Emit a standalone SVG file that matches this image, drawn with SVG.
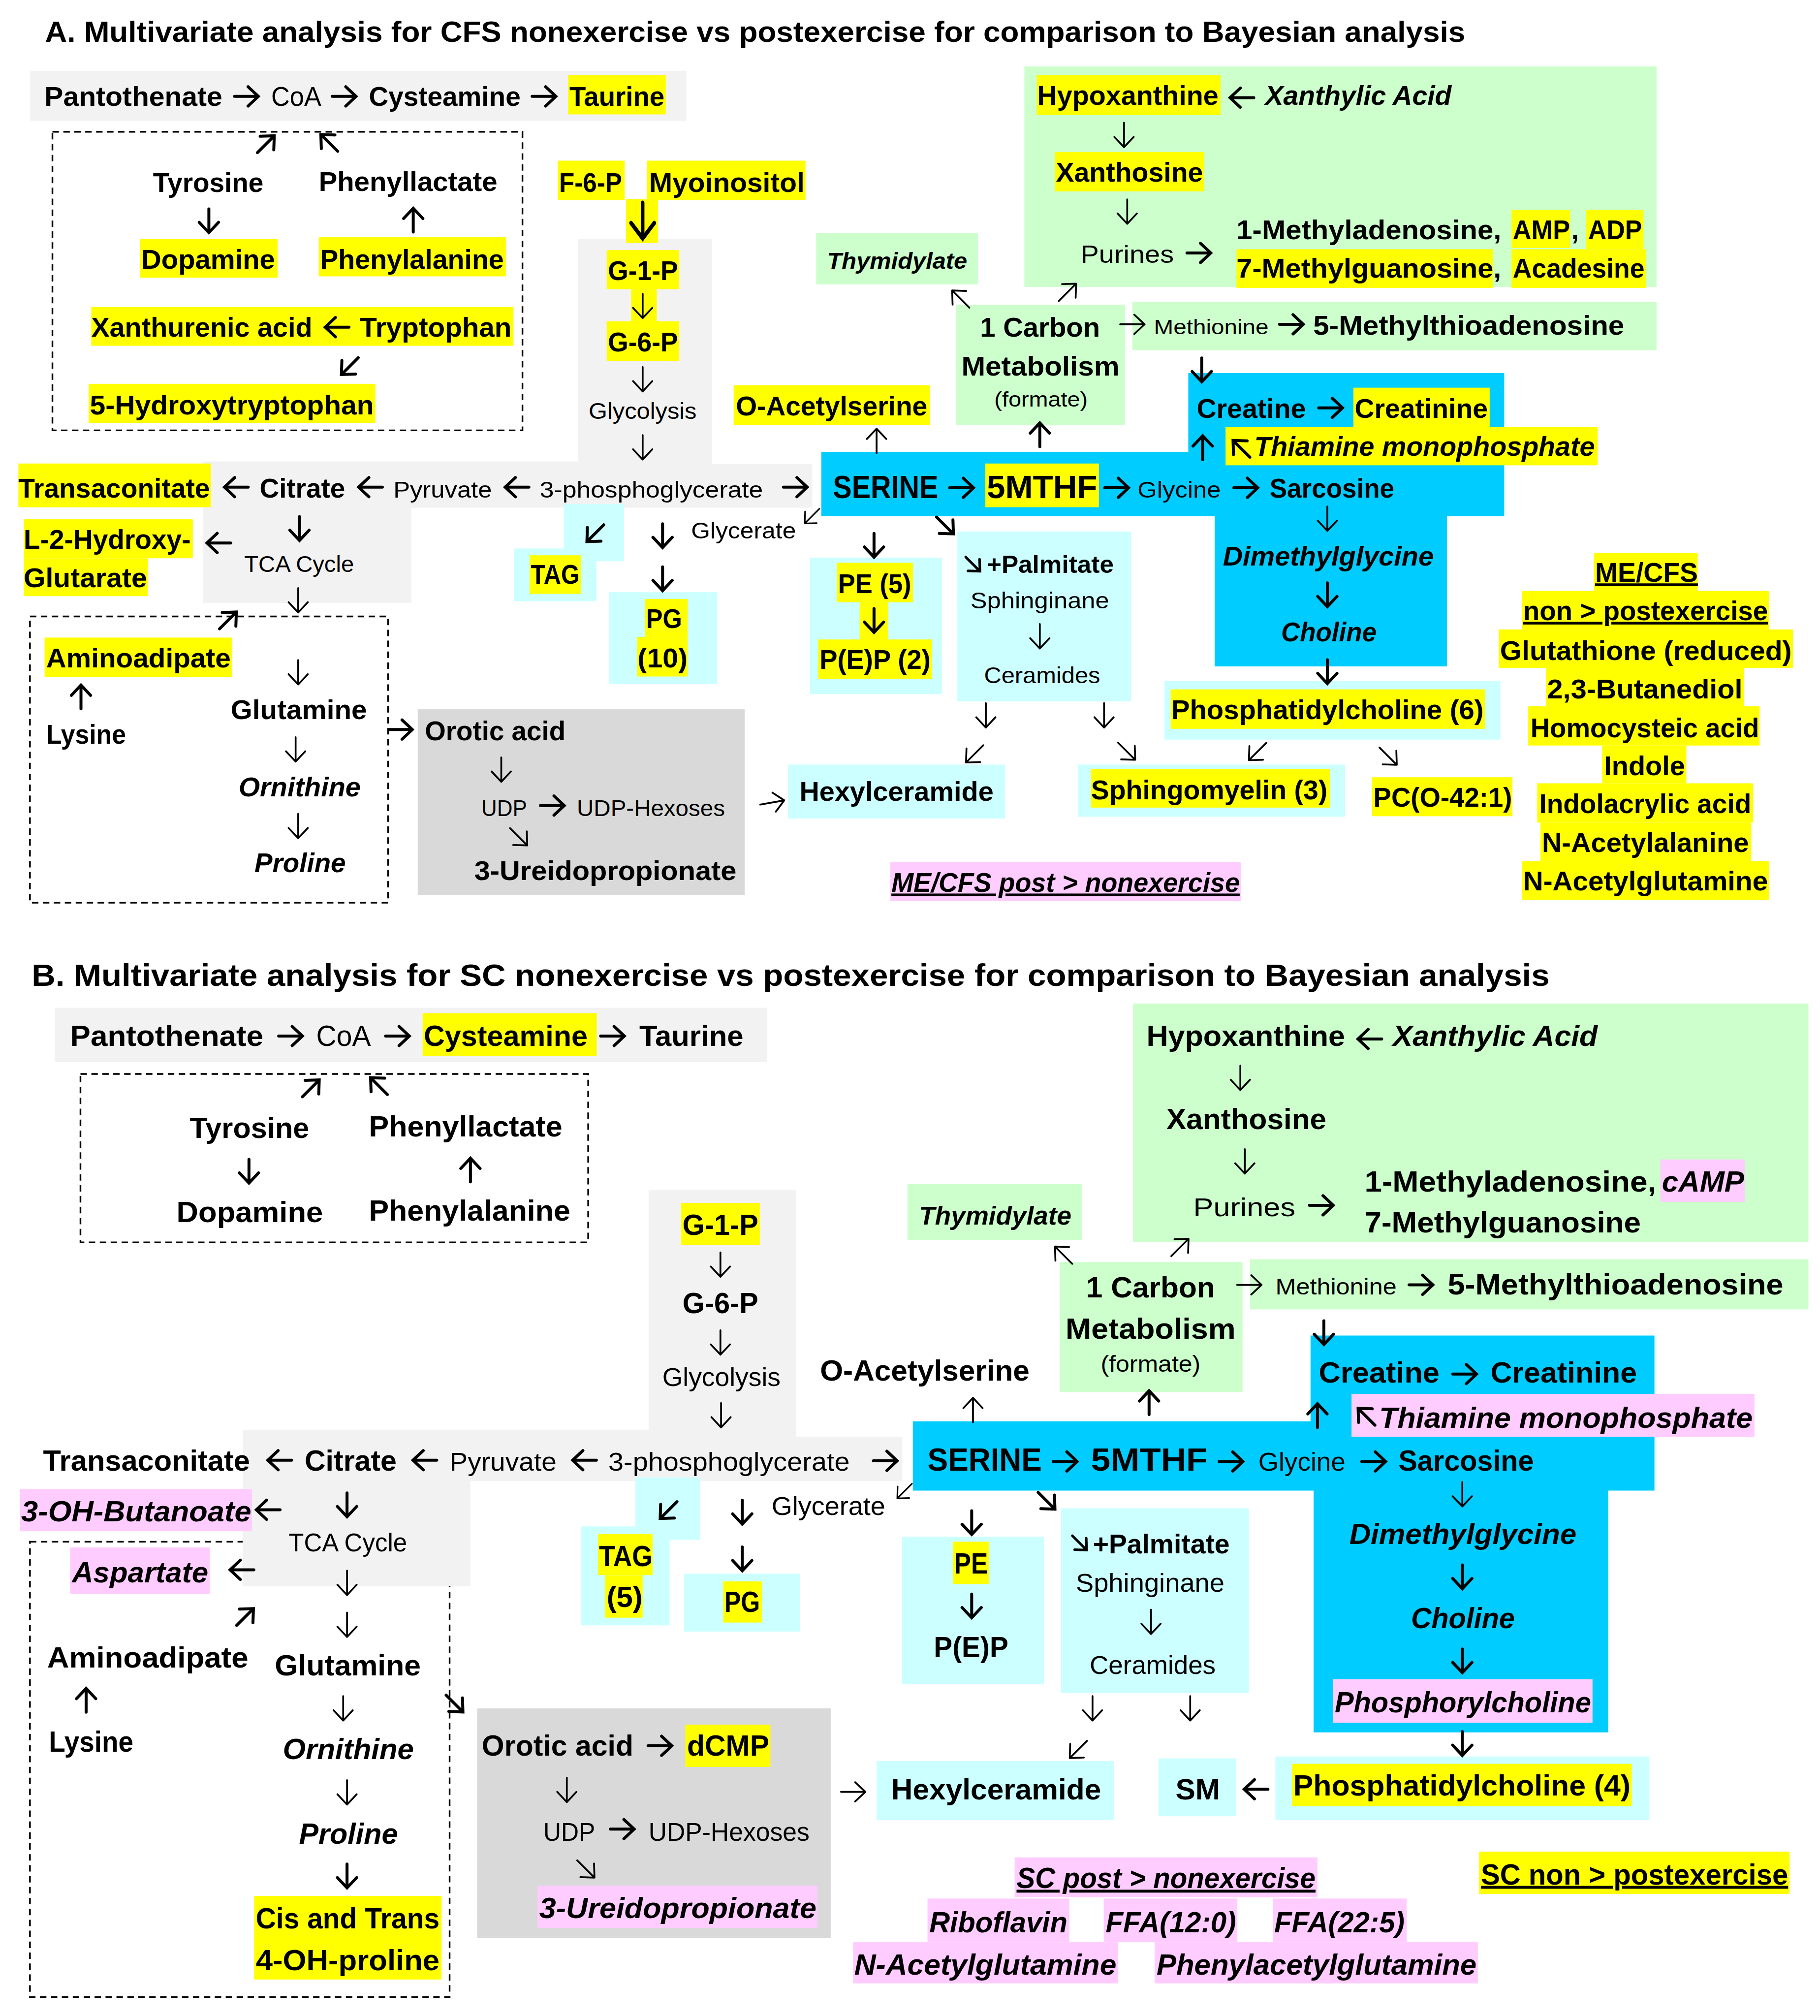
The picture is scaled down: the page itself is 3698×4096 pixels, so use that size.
<svg xmlns="http://www.w3.org/2000/svg" width="3698" height="4096" viewBox="0 0 3698 4096">
<defs>
<style>
text{font-family:"Liberation Sans",Arial,Helvetica,sans-serif;font-weight:bold;fill:#000}
.r{font-weight:normal}
.i{font-style:italic}
.u{text-decoration:underline}
.s16{font-size:16px}.s17{font-size:17.5px}.s18{font-size:18px}.s19{font-size:19px}.s195{font-size:19.5px}.s20{font-size:20px}.s21{font-size:21px}.s22{font-size:22.5px}.s23{font-size:23px}.s24{font-size:24px}.s245{font-size:24.5px}.s25{font-size:25px}
.y{fill:#ffff00}.c{fill:#ccffff}.g{fill:#ccffcc}.bl{fill:#00ccff}.p{fill:#ffccff}.lg{fill:#f2f2f2}.dg{fill:#d9d9d9}
.dash{fill:none;stroke:#000;stroke-width:1.3;stroke-dasharray:5 3.5}
</style>
<path id="t" d="M-9.5,0H9M1.5,-7.5L9.5,0L1.5,7.5" fill="none" stroke="#000" stroke-width="1.4" stroke-linecap="round" stroke-linejoin="round"/>
<path id="b" d="M-9.5,0H8.5M1,-7.5L9,0L1,7.5" fill="none" stroke="#000" stroke-width="2.3" stroke-linecap="round"/>
</defs>
<rect width="3698" height="4096" fill="#fff"/>
<g transform="scale(2.6116)">

<!-- ================= PART A ================= -->
<g id="A-title"><text x="35" y="32.5" textLength="1105" lengthAdjust="spacingAndGlyphs" class="s23">A. Multivariate analysis for CFS nonexercise vs postexercise for comparison to Bayesian analysis</text></g>

<g id="A-pantothenate">
<rect class="lg" x="23.5" y="55" width="510.5" height="39"/>
<rect class="y" x="442" y="58.5" width="76" height="30.5"/>
<text x="34.6" y="82.3" textLength="138.4" lengthAdjust="spacingAndGlyphs" class="s21">Pantothenate</text>
<text x="211" y="82.3" textLength="39" lengthAdjust="spacingAndGlyphs" class="s21 r">CoA</text>
<text x="287" y="82.3" textLength="118" lengthAdjust="spacingAndGlyphs" class="s21">Cysteamine</text>
<text x="443" y="82.3" textLength="74" lengthAdjust="spacingAndGlyphs" class="s21">Taurine</text>
</g>

<g id="A-aromatic">
<rect class="dash" x="40.8" y="102.5" width="365.7" height="232.3"/>
<rect class="y" x="109" y="186" width="107" height="30"/>
<rect class="y" x="248" y="184.6" width="145.6" height="30.4"/>
<rect class="y" x="71" y="238.8" width="328.5" height="30.2"/>
<rect class="y" x="69" y="298.6" width="223" height="30.4"/>
<text x="119" y="149.5" textLength="86" lengthAdjust="spacingAndGlyphs" class="s21">Tyrosine</text>
<text x="248" y="148.4" textLength="139" lengthAdjust="spacingAndGlyphs" class="s21">Phenyllactate</text>
<text x="110" y="209" textLength="104" lengthAdjust="spacingAndGlyphs" class="s21">Dopamine</text>
<text x="249" y="209" textLength="143" lengthAdjust="spacingAndGlyphs" class="s21">Phenylalanine</text>
<text x="71" y="262" textLength="172" lengthAdjust="spacingAndGlyphs" class="s21">Xanthurenic acid</text>
<text x="280" y="262" textLength="118" lengthAdjust="spacingAndGlyphs" class="s21">Tryptophan</text>
<text x="69.9" y="322.5" textLength="221" lengthAdjust="spacingAndGlyphs" class="s21">5-Hydroxytryptophan</text>
</g>

<g id="A-glycolysis">
<path class="lg" d="M449.7,186H554V361H632V395H320V469H158V359H449.7Z"/>
<rect class="y" x="434" y="125" width="52" height="30.6"/>
<rect class="y" x="503.3" y="125" width="123.4" height="30.6"/>
<rect class="y" x="487" y="155" width="25" height="34"/>
<rect class="y" x="472" y="194.6" width="56.5" height="30.4"/>
<rect class="y" x="491" y="225" width="20" height="25"/>
<rect class="y" x="472" y="250" width="56.5" height="31"/>
<text x="435" y="149.5" textLength="49" lengthAdjust="spacingAndGlyphs" class="s21">F-6-P</text>
<text x="505" y="149.5" textLength="121" lengthAdjust="spacingAndGlyphs" class="s21">Myoinositol</text>
<text x="473" y="218" textLength="54.5" lengthAdjust="spacingAndGlyphs" class="s21">G-1-P</text>
<text x="473" y="273.5" textLength="54.5" lengthAdjust="spacingAndGlyphs" class="s21">G-6-P</text>
<text x="458" y="326" textLength="84" lengthAdjust="spacingAndGlyphs" class="s18 r">Glycolysis</text>
<text x="202" y="387" textLength="66.5" lengthAdjust="spacingAndGlyphs" class="s21">Citrate</text>
<text x="306" y="387" textLength="76.7" lengthAdjust="spacingAndGlyphs" class="s18 r">Pyruvate</text>
<text x="420" y="387" textLength="173.6" lengthAdjust="spacingAndGlyphs" class="s18 r">3-phosphoglycerate</text>
<text x="190" y="445" textLength="85.4" lengthAdjust="spacingAndGlyphs" class="s18 r">TCA Cycle</text>
</g>

<g id="A-transaconitate">
<rect class="y" x="14.3" y="360.6" width="149.7" height="34"/>
<text x="14.3" y="387" textLength="149" lengthAdjust="spacingAndGlyphs" class="s21">Transaconitate</text>
</g>
<g id="A-hydroxyglutarate">
<rect class="y" x="18.4" y="404" width="131.6" height="30.3"/>
<rect class="y" x="18.4" y="434.3" width="96.6" height="29.5"/>
<text x="18.4" y="427" textLength="130" lengthAdjust="spacingAndGlyphs" class="s21">L-2-Hydroxy-</text>
<text x="18.4" y="456.7" textLength="96" lengthAdjust="spacingAndGlyphs" class="s21">Glutarate</text>
</g>

<g id="A-aminoacids">
<rect class="dash" x="23.3" y="479.6" width="278.7" height="222.7"/>
<rect class="y" x="34.7" y="496" width="145.6" height="30.8"/>
<text x="35.9" y="519.2" textLength="143.6" lengthAdjust="spacingAndGlyphs" class="s21">Aminoadipate</text>
<text x="36" y="578.7" textLength="62" lengthAdjust="spacingAndGlyphs" class="s21">Lysine</text>
<text x="179.5" y="559.4" textLength="106" lengthAdjust="spacingAndGlyphs" class="s21">Glutamine</text>
<text x="185.6" y="619.6" textLength="95" lengthAdjust="spacingAndGlyphs" class="s21 i">Ornithine</text>
<text x="198" y="678.6" textLength="71" lengthAdjust="spacingAndGlyphs" class="s21 i">Proline</text>
</g>

<g id="A-TAG">
<rect class="c" x="438.6" y="392" width="47" height="44.6"/>
<rect class="c" x="400" y="426.7" width="64" height="41"/>
<rect class="y" x="412" y="432" width="40" height="30"/>
<text x="413" y="454.3" textLength="38" lengthAdjust="spacingAndGlyphs" class="s21">TAG</text>
</g>
<g id="A-glycerate"><text x="537.7" y="419" textLength="81.6" lengthAdjust="spacingAndGlyphs" class="s18 r">Glycerate</text></g>
<g id="A-PG">
<rect class="c" x="474" y="460.7" width="84" height="71.5"/>
<rect class="y" x="502" y="466" width="33" height="29.6"/>
<rect class="y" x="495.7" y="495.6" width="39.3" height="30.7"/>
<text x="502.7" y="488.5" textLength="28" lengthAdjust="spacingAndGlyphs" class="s21">PG</text>
<text x="496" y="519.2" textLength="39" lengthAdjust="spacingAndGlyphs" class="s21">(10)</text>
</g>

<g id="A-orotic">
<rect class="dg" x="325" y="551.8" width="254.4" height="144.5"/>
<text x="330.5" y="575.9" textLength="109.5" lengthAdjust="spacingAndGlyphs" class="s21">Orotic acid</text>
<text x="374.5" y="635" textLength="35.5" lengthAdjust="spacingAndGlyphs" class="s18 r">UDP</text>
<text x="448.8" y="635" textLength="115.2" lengthAdjust="spacingAndGlyphs" class="s18 r">UDP-Hexoses</text>
<text x="369" y="684.5" textLength="204" lengthAdjust="spacingAndGlyphs" class="s21">3-Ureidopropionate</text>
</g>

<g id="A-purines">
<rect class="g" x="797" y="51.7" width="491.8" height="171.5"/>
<rect class="y" x="806.6" y="58.6" width="143" height="31"/>
<rect class="y" x="820.6" y="118.3" width="116.2" height="30.6"/>
<rect class="y" x="1176" y="163.3" width="45.7" height="29.6"/>
<rect class="y" x="1234" y="163.3" width="44.7" height="30.6"/>
<rect class="y" x="962" y="193.9" width="199.4" height="30.1"/>
<rect class="y" x="1176" y="193.9" width="104.4" height="30.1"/>
<text x="807" y="81.5" textLength="141" lengthAdjust="spacingAndGlyphs" class="s21">Hypoxanthine</text>
<text x="984.3" y="81.5" textLength="145" lengthAdjust="spacingAndGlyphs" class="s21 i">Xanthylic Acid</text>
<text x="821.5" y="141.2" textLength="114.5" lengthAdjust="spacingAndGlyphs" class="s21">Xanthosine</text>
<text x="840.7" y="204.4" textLength="72.6" lengthAdjust="spacingAndGlyphs" class="s19 r">Purines</text>
<text x="962" y="186.2" textLength="206" lengthAdjust="spacingAndGlyphs" class="s21">1-Methyladenosine,</text>
<text x="1177" y="186.2" textLength="44.5" lengthAdjust="spacingAndGlyphs" class="s21">AMP</text>
<text x="1222.5" y="186.2" class="s21">,</text>
<text x="1235.5" y="186.2" textLength="42" lengthAdjust="spacingAndGlyphs" class="s21">ADP</text>
<text x="962" y="215.9" textLength="206" lengthAdjust="spacingAndGlyphs" class="s21">7-Methylguanosine,</text>
<text x="1177" y="215.9" textLength="102.5" lengthAdjust="spacingAndGlyphs" class="s21">Acadesine</text>
</g>

<g id="A-thymidylate">
<rect class="g" x="635" y="181.4" width="125.8" height="39.8"/>
<text x="643.5" y="209.2" textLength="109" lengthAdjust="spacingAndGlyphs" class="s18 i">Thymidylate</text>
</g>
<g id="A-onecarbon">
<rect class="g" x="744" y="237" width="131.3" height="93.7"/>
<text x="762.5" y="261.8" textLength="93.3" lengthAdjust="spacingAndGlyphs" class="s21">1 Carbon</text>
<text x="748" y="292" textLength="123" lengthAdjust="spacingAndGlyphs" class="s21">Metabolism</text>
<text x="773.6" y="316.4" textLength="72.7" lengthAdjust="spacingAndGlyphs" class="s16 r">(formate)</text>
</g>
<g id="A-methionine">
<rect class="g" x="881" y="235" width="407.8" height="37.4"/>
<text x="897.7" y="259.9" textLength="89.3" lengthAdjust="spacingAndGlyphs" class="s16 r">Methionine</text>
<text x="1021.7" y="260.3" textLength="242" lengthAdjust="spacingAndGlyphs" class="s21">5-Methylthioadenosine</text>
</g>
<g id="A-oacetylserine">
<rect class="y" x="570.8" y="299.7" width="152.6" height="31"/>
<text x="572.5" y="323" textLength="149" lengthAdjust="spacingAndGlyphs" class="s21">O-Acetylserine</text>
</g>

<g id="A-serine">
<path class="bl" d="M924.5,290.2H1170.3V401.7H1125.7V518.5H945V401.7H639V351.6H924.5Z"/>
<rect class="y" x="1053" y="301.6" width="106" height="30.7"/>
<rect class="y" x="953.5" y="332" width="289.5" height="30"/>
<rect class="y" x="766.6" y="360.6" width="88.4" height="34"/>
<text x="931" y="325" textLength="85" lengthAdjust="spacingAndGlyphs" class="s21">Creatine</text>
<text x="1054" y="325" textLength="103.5" lengthAdjust="spacingAndGlyphs" class="s21">Creatinine</text>
<text x="975.8" y="354.4" textLength="265" lengthAdjust="spacingAndGlyphs" class="s21 i">Thiamine monophosphate</text>
<text x="648" y="387.5" textLength="82" lengthAdjust="spacingAndGlyphs" class="s245">SERINE</text>
<text x="767.7" y="387.5" textLength="86" lengthAdjust="spacingAndGlyphs" class="s245">5MTHF</text>
<text x="885" y="387" textLength="64.8" lengthAdjust="spacingAndGlyphs" class="s18 r">Glycine</text>
<text x="987.8" y="387" textLength="97" lengthAdjust="spacingAndGlyphs" class="s21">Sarcosine</text>
<text x="951.4" y="440" textLength="164" lengthAdjust="spacingAndGlyphs" class="s21 i">Dimethylglycine</text>
<text x="996.7" y="499" textLength="74.3" lengthAdjust="spacingAndGlyphs" class="s21 i">Choline</text>
</g>

<g id="A-PE">
<rect class="c" x="630.3" y="433.8" width="102.5" height="106.2"/>
<rect class="y" x="651" y="437.8" width="59.4" height="30.7"/>
<rect class="y" x="668.8" y="468.5" width="22.2" height="29.5"/>
<rect class="y" x="636.5" y="497.5" width="88.5" height="30.7"/>
<text x="652" y="461.4" textLength="57" lengthAdjust="spacingAndGlyphs" class="s21">PE (5)</text>
<text x="637.6" y="520.4" textLength="86.4" lengthAdjust="spacingAndGlyphs" class="s21">P(E)P (2)</text>
</g>
<g id="A-sphinginane">
<rect class="c" x="744.8" y="413.5" width="135.2" height="132.2"/>
<text x="767.7" y="445.6" textLength="98.8" lengthAdjust="spacingAndGlyphs" class="s19">+Palmitate</text>
<text x="755" y="473.2" textLength="108" lengthAdjust="spacingAndGlyphs" class="s18 r">Sphinginane</text>
<text x="765.6" y="531.5" textLength="90.4" lengthAdjust="spacingAndGlyphs" class="s18 r">Ceramides</text>
</g>
<g id="A-PC">
<rect class="c" x="906" y="529.9" width="261.3" height="45.5"/>
<rect class="y" x="910.8" y="536.3" width="244.6" height="30.7"/>
<text x="911.3" y="559.4" textLength="243" lengthAdjust="spacingAndGlyphs" class="s21">Phosphatidylcholine (6)</text>
</g>
<g id="A-hexylceramide">
<rect class="c" x="613" y="594.8" width="169" height="42"/>
<text x="622" y="623" textLength="151" lengthAdjust="spacingAndGlyphs" class="s21">Hexylceramide</text>
</g>
<g id="A-sphingomyelin">
<rect class="c" x="838.5" y="594.8" width="208.1" height="40.6"/>
<rect class="y" x="848.9" y="598.3" width="185.7" height="30"/>
<text x="848.8" y="622" textLength="184" lengthAdjust="spacingAndGlyphs" class="s21">Sphingomyelin (3)</text>
</g>
<g id="A-PCO">
<rect class="y" x="1067.4" y="604.7" width="109.3" height="30.3"/>
<text x="1068.5" y="627.4" textLength="108" lengthAdjust="spacingAndGlyphs" class="s21">PC(O-42:1)</text>
</g>

<g id="A-nonpost-list">
<rect class="y" x="1240" y="430" width="80.8" height="29.7"/>
<rect class="y" x="1184" y="459.7" width="192.5" height="30"/>
<rect class="y" x="1166" y="489.7" width="229" height="30"/>
<rect class="y" x="1202.7" y="519.7" width="154.3" height="30"/>
<rect class="y" x="1189" y="549.5" width="180" height="30.5"/>
<rect class="y" x="1246.5" y="580" width="65.5" height="29.4"/>
<rect class="y" x="1196" y="609.4" width="168" height="30.6"/>
<rect class="y" x="1198.5" y="640" width="164" height="30"/>
<rect class="y" x="1184" y="670" width="192.5" height="30"/>
<text x="1241" y="452.7" textLength="80" lengthAdjust="spacingAndGlyphs" class="s21 u">ME/CFS</text>
<text x="1185" y="482.6" textLength="190.5" lengthAdjust="spacingAndGlyphs" class="s21 u">non &gt; postexercise</text>
<text x="1167" y="513.3" textLength="227" lengthAdjust="spacingAndGlyphs" class="s21">Glutathione (reduced)</text>
<text x="1203.7" y="543.3" textLength="152" lengthAdjust="spacingAndGlyphs" class="s21">2,3-Butanediol</text>
<text x="1190.7" y="573.5" textLength="178" lengthAdjust="spacingAndGlyphs" class="s21">Homocysteic acid</text>
<text x="1248" y="603" textLength="63" lengthAdjust="spacingAndGlyphs" class="s21">Indole</text>
<text x="1197.5" y="632.6" textLength="165" lengthAdjust="spacingAndGlyphs" class="s21">Indolacrylic acid</text>
<text x="1199.6" y="662.8" textLength="161" lengthAdjust="spacingAndGlyphs" class="s21">N-Acetylalanine</text>
<text x="1185" y="692.8" textLength="190.5" lengthAdjust="spacingAndGlyphs" class="s21">N-Acetylglutamine</text>
</g>
<g id="A-postnon">
<rect class="p" x="692.7" y="670.8" width="272.7" height="30.2"/>
<text x="693.5" y="694" textLength="271" lengthAdjust="spacingAndGlyphs" class="s21 i u">ME/CFS post &gt; nonexercise</text>
</g>

<!-- ================= PART B ================= -->
<g id="B-title"><text x="24.6" y="767" textLength="1181" lengthAdjust="spacingAndGlyphs" class="s24">B. Multivariate analysis for SC nonexercise vs postexercise for comparison to Bayesian analysis</text></g>

<g id="B-pantothenate">
<rect class="lg" x="42.5" y="784" width="554.5" height="42.3"/>
<rect class="y" x="328.8" y="788.2" width="135.5" height="33.5"/>
<text x="54.6" y="813.6" textLength="150.3" lengthAdjust="spacingAndGlyphs" class="s22">Pantothenate</text>
<text x="246" y="813.6" textLength="42.5" lengthAdjust="spacingAndGlyphs" class="s22 r">CoA</text>
<text x="329.7" y="813.6" textLength="127.5" lengthAdjust="spacingAndGlyphs" class="s22">Cysteamine</text>
<text x="497.4" y="813.6" textLength="81" lengthAdjust="spacingAndGlyphs" class="s22">Taurine</text>
</g>

<g id="B-aromatic">
<rect class="dash" x="62.6" y="835.5" width="395" height="131"/>
<text x="147.6" y="885.1" textLength="93" lengthAdjust="spacingAndGlyphs" class="s22">Tyrosine</text>
<text x="287" y="884" textLength="150.5" lengthAdjust="spacingAndGlyphs" class="s22">Phenyllactate</text>
<text x="137.3" y="950.8" textLength="114" lengthAdjust="spacingAndGlyphs" class="s22">Dopamine</text>
<text x="287" y="949.7" textLength="156.7" lengthAdjust="spacingAndGlyphs" class="s22">Phenylalanine</text>
</g>

<g id="B-aminoacids">
<rect class="dash" x="23.3" y="1199.4" width="326.5" height="354.3"/>
<rect class="p" x="54.6" y="1203.9" width="108.7" height="36"/>
<rect class="y" x="197.7" y="1475" width="145.8" height="65"/>
<text x="56" y="1230.9" textLength="106" lengthAdjust="spacingAndGlyphs" class="s22 i">Aspartate</text>
<text x="36.7" y="1297.4" textLength="156.5" lengthAdjust="spacingAndGlyphs" class="s22">Aminoadipate</text>
<text x="213.8" y="1303.4" textLength="113.6" lengthAdjust="spacingAndGlyphs" class="s22">Glutamine</text>
<text x="38" y="1362.7" textLength="65.8" lengthAdjust="spacingAndGlyphs" class="s22">Lysine</text>
<text x="220" y="1368.7" textLength="102" lengthAdjust="spacingAndGlyphs" class="s22 i">Ornithine</text>
<text x="232.6" y="1434.5" textLength="77" lengthAdjust="spacingAndGlyphs" class="s22 i">Proline</text>
<text x="199" y="1500.4" textLength="143" lengthAdjust="spacingAndGlyphs" class="s22">Cis and Trans</text>
<text x="199" y="1532.8" textLength="143" lengthAdjust="spacingAndGlyphs" class="s22">4-OH-proline</text>
</g>

<g id="B-glycolysis">
<path class="lg" d="M504.6,926H619.5V1117.7H702V1152.4H366V1233.9H188.8V1112.6H504.6Z"/>
<rect class="y" x="530" y="935.8" width="61.3" height="32.8"/>
<text x="531" y="960.7" textLength="59" lengthAdjust="spacingAndGlyphs" class="s22">G-1-P</text>
<text x="531" y="1021.6" textLength="59" lengthAdjust="spacingAndGlyphs" class="s22">G-6-P</text>
<text x="515.3" y="1078.3" textLength="92" lengthAdjust="spacingAndGlyphs" class="s195 r">Glycolysis</text>
<text x="237" y="1144" textLength="71.6" lengthAdjust="spacingAndGlyphs" class="s22">Citrate</text>
<text x="349.8" y="1144" textLength="83.2" lengthAdjust="spacingAndGlyphs" class="s195 r">Pyruvate</text>
<text x="473.3" y="1144" textLength="187.8" lengthAdjust="spacingAndGlyphs" class="s195 r">3-phosphoglycerate</text>
<text x="224.5" y="1207" textLength="92.2" lengthAdjust="spacingAndGlyphs" class="s195 r">TCA Cycle</text>
</g>

<g id="B-transaconitate"><text x="33.5" y="1144" textLength="161" lengthAdjust="spacingAndGlyphs" class="s22">Transaconitate</text></g>
<g id="B-butanoate">
<rect class="p" x="15.7" y="1158.4" width="180.3" height="32.9"/>
<text x="16.5" y="1183.6" textLength="179" lengthAdjust="spacingAndGlyphs" class="s22 i">3-OH-Butanoate</text>
</g>

<g id="B-orotic">
<rect class="dg" x="371.3" y="1329.1" width="275" height="178.8"/>
<rect class="y" x="533.2" y="1341.7" width="66.2" height="32.9"/>
<rect class="p" x="418.2" y="1466.9" width="217.8" height="32.9"/>
<text x="374.8" y="1365.7" textLength="118" lengthAdjust="spacingAndGlyphs" class="s22">Orotic acid</text>
<text x="534.5" y="1365.7" textLength="64" lengthAdjust="spacingAndGlyphs" class="s22">dCMP</text>
<text x="422.7" y="1432" textLength="40.3" lengthAdjust="spacingAndGlyphs" class="s195 r">UDP</text>
<text x="504.6" y="1432" textLength="125.2" lengthAdjust="spacingAndGlyphs" class="s195 r">UDP-Hexoses</text>
<text x="419.6" y="1492" textLength="215.6" lengthAdjust="spacingAndGlyphs" class="s22 i">3-Ureidopropionate</text>
</g>

<g id="B-TAG">
<rect class="c" x="494.3" y="1149.4" width="50.5" height="48.5"/>
<rect class="c" x="451.8" y="1187.5" width="69.2" height="77"/>
<rect class="y" x="465.2" y="1193.4" width="42.5" height="32"/>
<rect class="y" x="470.6" y="1225.5" width="29.4" height="33"/>
<text x="466" y="1218.3" textLength="41.7" lengthAdjust="spacingAndGlyphs" class="s22">TAG</text>
<text x="472" y="1250.3" textLength="28" lengthAdjust="spacingAndGlyphs" class="s22">(5)</text>
</g>
<g id="B-glycerate"><text x="600.3" y="1178.5" textLength="88.5" lengthAdjust="spacingAndGlyphs" class="s195 r">Glycerate</text></g>
<g id="B-PG">
<rect class="c" x="532.3" y="1224.3" width="90.3" height="45"/>
<rect class="y" x="562.7" y="1230.3" width="30" height="32"/>
<text x="563.6" y="1254.2" textLength="27.7" lengthAdjust="spacingAndGlyphs" class="s22">PG</text>
</g>

<g id="B-purines">
<rect class="g" x="881.5" y="780.7" width="525.5" height="185.6"/>
<rect class="p" x="1291.8" y="902" width="66" height="33"/>
<text x="892" y="813.6" textLength="154.5" lengthAdjust="spacingAndGlyphs" class="s22">Hypoxanthine</text>
<text x="1083.5" y="813.6" textLength="159.5" lengthAdjust="spacingAndGlyphs" class="s22 i">Xanthylic Acid</text>
<text x="907.5" y="878.3" textLength="124.5" lengthAdjust="spacingAndGlyphs" class="s22">Xanthosine</text>
<text x="928.4" y="946.1" textLength="79.4" lengthAdjust="spacingAndGlyphs" class="s20 r">Purines</text>
<text x="1061.6" y="927" textLength="227" lengthAdjust="spacingAndGlyphs" class="s22">1-Methyladenosine,</text>
<text x="1293" y="927" textLength="64" lengthAdjust="spacingAndGlyphs" class="s22 i">cAMP</text>
<text x="1061.6" y="958.9" textLength="215" lengthAdjust="spacingAndGlyphs" class="s22">7-Methylguanosine</text>
</g>
<g id="B-thymidylate">
<rect class="g" x="706" y="921" width="135.8" height="43.7"/>
<text x="715" y="952.5" textLength="118.6" lengthAdjust="spacingAndGlyphs" class="s20 i">Thymidylate</text>
</g>
<g id="B-onecarbon">
<rect class="g" x="824.5" y="981.8" width="142.2" height="101.2"/>
<text x="845" y="1009.3" textLength="100.3" lengthAdjust="spacingAndGlyphs" class="s22">1 Carbon</text>
<text x="829" y="1041.6" textLength="132.3" lengthAdjust="spacingAndGlyphs" class="s22">Metabolism</text>
<text x="856.4" y="1067" textLength="77.6" lengthAdjust="spacingAndGlyphs" class="s17 r">(formate)</text>
</g>
<g id="B-methionine">
<rect class="g" x="972.6" y="979.7" width="434.4" height="39"/>
<text x="992.3" y="1007.2" textLength="94.3" lengthAdjust="spacingAndGlyphs" class="s17 r">Methionine</text>
<text x="1126.3" y="1007.2" textLength="261.2" lengthAdjust="spacingAndGlyphs" class="s22">5-Methylthioadenosine</text>
</g>
<g id="B-oacetylserine"><text x="638" y="1074" textLength="163" lengthAdjust="spacingAndGlyphs" class="s22">O-Acetylserine</text></g>

<g id="B-serine">
<path class="bl" d="M1019.6,1039H1287.2V1159.6H1251.2V1347.7H1022V1159.6H710.2V1105.7H1019.6Z"/>
<rect class="p" x="1051.5" y="1084.4" width="313.5" height="33.3"/>
<rect class="p" x="1037" y="1306.4" width="202" height="33.8"/>
<text x="1026" y="1075.5" textLength="94" lengthAdjust="spacingAndGlyphs" class="s22">Creatine</text>
<text x="1159.6" y="1075.5" textLength="114" lengthAdjust="spacingAndGlyphs" class="s22">Creatinine</text>
<text x="1073" y="1111" textLength="290.6" lengthAdjust="spacingAndGlyphs" class="s22 i">Thiamine monophosphate</text>
<text x="721.6" y="1144" textLength="89" lengthAdjust="spacingAndGlyphs" class="s25">SERINE</text>
<text x="848.8" y="1144" textLength="90.6" lengthAdjust="spacingAndGlyphs" class="s25">5MTHF</text>
<text x="979" y="1144" textLength="67.8" lengthAdjust="spacingAndGlyphs" class="s195 r">Glycine</text>
<text x="1088" y="1144" textLength="105.3" lengthAdjust="spacingAndGlyphs" class="s22">Sarcosine</text>
<text x="1049.8" y="1201" textLength="176.7" lengthAdjust="spacingAndGlyphs" class="s22 i">Dimethylglycine</text>
<text x="1097.8" y="1266.8" textLength="80.7" lengthAdjust="spacingAndGlyphs" class="s22 i">Choline</text>
<text x="1038.4" y="1332" textLength="199.5" lengthAdjust="spacingAndGlyphs" class="s22 i">Phosphorylcholine</text>
</g>

<g id="B-PE">
<rect class="c" x="701.8" y="1195.5" width="110.4" height="114.7"/>
<rect class="y" x="741.4" y="1199.4" width="28.2" height="33"/>
<text x="742.4" y="1224.3" textLength="26.2" lengthAdjust="spacingAndGlyphs" class="s22">PE</text>
<text x="726.5" y="1289.3" textLength="58" lengthAdjust="spacingAndGlyphs" class="s22">P(E)P</text>
</g>
<g id="B-sphinginane">
<rect class="c" x="825.5" y="1173.4" width="146.1" height="143.7"/>
<text x="850.3" y="1208.4" textLength="106.4" lengthAdjust="spacingAndGlyphs" class="s21">+Palmitate</text>
<text x="837" y="1238.4" textLength="115.7" lengthAdjust="spacingAndGlyphs" class="s195 r">Sphinginane</text>
<text x="847.8" y="1302.2" textLength="98" lengthAdjust="spacingAndGlyphs" class="s195 r">Ceramides</text>
</g>
<g id="B-hexylceramide">
<rect class="c" x="682" y="1370" width="184.6" height="46"/>
<text x="693.4" y="1400" textLength="163.3" lengthAdjust="spacingAndGlyphs" class="s22">Hexylceramide</text>
</g>
<g id="B-SM">
<rect class="c" x="901.3" y="1368" width="60.4" height="45"/>
<text x="914.6" y="1400" textLength="34.7" lengthAdjust="spacingAndGlyphs" class="s22">SM</text>
</g>
<g id="B-PC">
<rect class="c" x="992.3" y="1366.5" width="291" height="49.5"/>
<rect class="y" x="1005.2" y="1372.2" width="264.3" height="33"/>
<text x="1006.2" y="1397" textLength="262.4" lengthAdjust="spacingAndGlyphs" class="s22">Phosphatidylcholine (4)</text>
</g>

<g id="B-postnon">
<rect class="p" x="789.4" y="1445" width="235.6" height="31"/>
<rect class="p" x="721.6" y="1477" width="110.4" height="34"/>
<rect class="p" x="858.7" y="1477" width="104" height="34"/>
<rect class="p" x="990.4" y="1477" width="104" height="34"/>
<rect class="p" x="663.7" y="1511" width="206.3" height="32"/>
<rect class="p" x="898.3" y="1511" width="251.5" height="32"/>
<text x="790.9" y="1469" textLength="232.6" lengthAdjust="spacingAndGlyphs" class="s22 i u">SC post &gt; nonexercise</text>
<text x="723" y="1503.4" textLength="107.5" lengthAdjust="spacingAndGlyphs" class="s22 i">Riboflavin</text>
<text x="860.2" y="1503.4" textLength="101.5" lengthAdjust="spacingAndGlyphs" class="s22 i">FFA(12:0)</text>
<text x="991.3" y="1503.4" textLength="101.5" lengthAdjust="spacingAndGlyphs" class="s22 i">FFA(22:5)</text>
<text x="664.6" y="1536.4" textLength="204" lengthAdjust="spacingAndGlyphs" class="s22 i">N-Acetylglutamine</text>
<text x="899.8" y="1536.4" textLength="249" lengthAdjust="spacingAndGlyphs" class="s22 i">Phenylacetylglutamine</text>
</g>
<g id="B-nonpost">
<rect class="y" x="1150.7" y="1440.5" width="241.6" height="33"/>
<text x="1152.2" y="1466" textLength="239" lengthAdjust="spacingAndGlyphs" class="s22 u">SC non &gt; postexercise</text>
</g>

<!-- ================= CONNECTORS ================= -->
<g id="connectors">
<use href="#b" transform="translate(192 75)"/>
<use href="#b" transform="translate(268 75)"/>
<use href="#b" transform="translate(423.5 75)"/>
<use href="#b" transform="translate(207 112) rotate(-45)"/>
<use href="#b" transform="translate(256 111) rotate(-135)"/>
<use href="#b" transform="translate(162.5 172) rotate(90)"/>
<use href="#b" transform="translate(321.5 171) rotate(-90)"/>
<use href="#b" transform="translate(262 254.5) rotate(180)"/>
<use href="#b" transform="translate(272 285) rotate(135)"/>
<use href="#b" transform="translate(500 172) rotate(90) scale(1.5 1.2)"/>
<use href="#t" transform="translate(500 238) rotate(90)"/>
<use href="#t" transform="translate(500 295) rotate(90)"/>
<use href="#t" transform="translate(500 348) rotate(90)"/>
<use href="#b" transform="translate(183.6 379) rotate(180)"/>
<use href="#b" transform="translate(288 379) rotate(180)"/>
<use href="#b" transform="translate(402 379) rotate(180)"/>
<use href="#b" transform="translate(619 379)"/>
<use href="#t" transform="translate(631.8 401.5) rotate(135) scale(0.85)"/>
<use href="#b" transform="translate(233 411.5) rotate(90)"/>
<use href="#b" transform="translate(170 422.4) rotate(180)"/>
<use href="#t" transform="translate(232 467) rotate(90)"/>
<use href="#b" transform="translate(463 415) rotate(135)"/>
<use href="#b" transform="translate(515.5 417) rotate(90)"/>
<use href="#b" transform="translate(515.5 450.5) rotate(90)"/>
<use href="#b" transform="translate(177.5 482.5) rotate(-45)"/>
<use href="#b" transform="translate(63 542) rotate(-90)"/>
<use href="#t" transform="translate(232 523) rotate(90)"/>
<use href="#t" transform="translate(230 583) rotate(90)"/>
<use href="#t" transform="translate(232 642.6) rotate(90)"/>
<use href="#b" transform="translate(311.8 567.6)"/>
<use href="#t" transform="translate(390 598.7) rotate(90)"/>
<use href="#b" transform="translate(430 626.7)"/>
<use href="#t" transform="translate(403.5 651) rotate(45)"/>
<use href="#t" transform="translate(600.8 624.3) rotate(-10)"/>
<use href="#t" transform="translate(682 343) rotate(-90)"/>
<use href="#b" transform="translate(809 338) rotate(-90)"/>
<use href="#b" transform="translate(966 76) rotate(180)"/>
<use href="#t" transform="translate(874.5 105) rotate(90)"/>
<use href="#t" transform="translate(877 164.6) rotate(90)"/>
<use href="#b" transform="translate(933 196.8)"/>
<use href="#t" transform="translate(747.5 232.7) rotate(-135)"/>
<use href="#t" transform="translate(830.5 227.4) rotate(-45)"/>
<use href="#t" transform="translate(881 252.3)"/>
<use href="#b" transform="translate(1005 252.3)"/>
<use href="#b" transform="translate(935 288) rotate(90)"/>
<use href="#b" transform="translate(1035.5 317.3)"/>
<use href="#b" transform="translate(935.7 348) rotate(-90)"/>
<use href="#b" transform="translate(965.7 349) rotate(-135)"/>
<use href="#b" transform="translate(748.4 379.5)"/>
<use href="#b" transform="translate(869 379.5)"/>
<use href="#b" transform="translate(969.5 379.5)"/>
<use href="#t" transform="translate(1032.7 403.5) rotate(90)"/>
<use href="#b" transform="translate(1032.7 463) rotate(90)"/>
<use href="#b" transform="translate(1032.7 522.8) rotate(90)"/>
<use href="#t" transform="translate(978.4 584.7) rotate(135)"/>
<use href="#t" transform="translate(1080 588.3) rotate(45)"/>
<use href="#t" transform="translate(767 556.5) rotate(90)"/>
<use href="#t" transform="translate(859 556.5) rotate(90)"/>
<use href="#t" transform="translate(758.3 586.5) rotate(135)"/>
<use href="#t" transform="translate(876.5 584.4) rotate(45)"/>
<use href="#b" transform="translate(680 424.5) rotate(90)"/>
<use href="#b" transform="translate(735.4 409) rotate(45)"/>
<use href="#b" transform="translate(680 483) rotate(90)"/>
<use href="#b" transform="translate(757 439) rotate(45) scale(0.85)"/>
<use href="#t" transform="translate(809 495) rotate(90)"/>

<use href="#b" transform="translate(226.3 806)"/>
<use href="#b" transform="translate(309.5 806)"/>
<use href="#b" transform="translate(476.8 806)"/>
<use href="#b" transform="translate(242 846.5) rotate(-45)"/>
<use href="#b" transform="translate(294.7 844.8) rotate(-135)"/>
<use href="#b" transform="translate(193.7 911.4) rotate(90)"/>
<use href="#b" transform="translate(366 910) rotate(-90)"/>
<use href="#t" transform="translate(560.5 983.8) rotate(90)"/>
<use href="#t" transform="translate(560.5 1044.4) rotate(90)"/>
<use href="#t" transform="translate(561 1101) rotate(90)"/>
<use href="#b" transform="translate(1065.5 808.3) rotate(180)"/>
<use href="#t" transform="translate(965 838.5) rotate(90)"/>
<use href="#t" transform="translate(968.5 903.5) rotate(90)"/>
<use href="#b" transform="translate(1028.3 937.7)"/>
<use href="#t" transform="translate(827.5 976.5) rotate(-135)"/>
<use href="#t" transform="translate(918 970.5) rotate(-45)"/>
<use href="#t" transform="translate(972 999.6)"/>
<use href="#b" transform="translate(1105.8 999.6)"/>
<use href="#b" transform="translate(1030 1037) rotate(90)"/>
<use href="#b" transform="translate(1139.8 1069)"/>
<use href="#b" transform="translate(1025 1101) rotate(-90)"/>
<use href="#b" transform="translate(1063 1102) rotate(-135)"/>
<use href="#t" transform="translate(757 1097) rotate(-90)"/>
<use href="#b" transform="translate(894 1091) rotate(-90)"/>
<use href="#b" transform="translate(217.4 1136) rotate(180)"/>
<use href="#b" transform="translate(330.3 1136) rotate(180)"/>
<use href="#b" transform="translate(454.5 1136) rotate(180)"/>
<use href="#b" transform="translate(689 1136.5)"/>
<use href="#t" transform="translate(703.8 1160) rotate(135) scale(0.85)"/>
<use href="#b" transform="translate(829 1137)"/>
<use href="#b" transform="translate(958 1137)"/>
<use href="#b" transform="translate(1069 1137)"/>
<use href="#b" transform="translate(208.4 1174.6) rotate(180)"/>
<use href="#b" transform="translate(270 1171) rotate(90)"/>
<use href="#t" transform="translate(270 1231.4) rotate(90)"/>
<use href="#b" transform="translate(188 1221.3) rotate(180)"/>
<use href="#b" transform="translate(190.8 1257.8) rotate(-45)"/>
<use href="#t" transform="translate(270 1264) rotate(90)"/>
<use href="#b" transform="translate(67 1322.5) rotate(-90)"/>
<use href="#t" transform="translate(267 1329) rotate(90)"/>
<use href="#b" transform="translate(353.8 1325.5) rotate(45)"/>
<use href="#t" transform="translate(270 1394.4) rotate(90)"/>
<use href="#b" transform="translate(270 1459.7) rotate(90)"/>
<use href="#t" transform="translate(441 1392.5) rotate(90)"/>
<use href="#b" transform="translate(513.7 1358.2)"/>
<use href="#b" transform="translate(484.4 1423)"/>
<use href="#t" transform="translate(455.8 1454) rotate(45)"/>
<use href="#t" transform="translate(663.8 1394)"/>
<use href="#b" transform="translate(520 1175) rotate(135)"/>
<use href="#b" transform="translate(577.5 1176.7) rotate(90)"/>
<use href="#b" transform="translate(577.5 1213) rotate(90)"/>
<use href="#b" transform="translate(756 1184.8) rotate(90)"/>
<use href="#b" transform="translate(814.4 1167.7) rotate(45)"/>
<use href="#b" transform="translate(756 1249.6) rotate(90)"/>
<use href="#b" transform="translate(840 1200.5) rotate(45) scale(0.85)"/>
<use href="#t" transform="translate(895.5 1261.7) rotate(90)"/>
<use href="#t" transform="translate(850 1329) rotate(90)"/>
<use href="#t" transform="translate(926 1329) rotate(90)"/>
<use href="#t" transform="translate(839 1361) rotate(135)"/>
<use href="#b" transform="translate(977 1392) rotate(180)"/>
<use href="#t" transform="translate(1137.7 1162.5) rotate(90)"/>
<use href="#b" transform="translate(1137.7 1227) rotate(90)"/>
<use href="#b" transform="translate(1137.7 1292.3) rotate(90)"/>
<use href="#b" transform="translate(1137.7 1356.7) rotate(90)"/>
</g>
</g>
</svg>
